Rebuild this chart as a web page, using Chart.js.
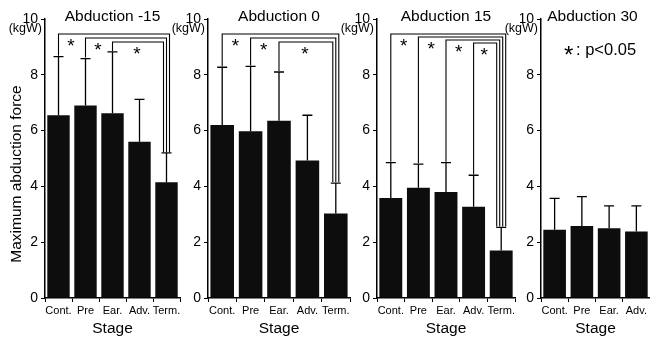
<!DOCTYPE html>
<html><head><meta charset="utf-8">
<script src="https://cdn.jsdelivr.net/npm/chart.js@4/dist/chart.umd.min.js"></script>
<style>
html,body{margin:0;padding:0;background:#fff;width:650px;height:340px;overflow:hidden}
canvas{position:absolute;top:0;left:0}
</style></head><body>
<canvas id="c0" width="650" height="340"></canvas>
<canvas id="c1" width="650" height="340"></canvas>
<canvas id="c2" width="650" height="340"></canvas>
<canvas id="c3" width="650" height="340"></canvas>
<script>
// ---- data ----
const stagesAll = ['Cont.', 'Pre', 'Ear.', 'Adv.', 'Term.'];
const stages30 = ['Cont.', 'Pre', 'Ear.', 'Adv.'];
const panelTitles = ['Abduction -15', 'Abduction 0', 'Abduction 15', 'Abduction 30'];
const yTickValues = [0, 2, 4, 6, 8, 10];

const meanM15 = [6.55, 6.9, 6.62, 5.6, 4.15];
const upperM15 = [8.65, 8.58, 8.82, 7.12, 5.2];
const meanA0 = [6.2, 5.98, 6.35, 4.93, 3.03];
const upperA0 = [8.27, 8.3, 8.1, 6.55, 4.12];
const meanA15 = [3.58, 3.95, 3.8, 3.27, 1.7];
const upperA15 = [4.85, 4.8, 4.85, 4.4, 2.53];
const meanA30 = [2.45, 2.58, 2.5, 2.38];
const upperA30 = [3.57, 3.63, 3.3, 3.3];

// significant pairs: [group, compared group]
const sigM15 = [[0, 4], [1, 4], [2, 4]];
const sigA0 = [[0, 4], [1, 4], [2, 4]];
const sigA15 = [[0, 4], [1, 4], [2, 4], [3, 4]];
const sigA30 = [];

const yUnit = '(kgW)';
const yTitle = 'Maximum abduction force';
const xTitle = 'Stage';
const legendStar = '*';
const legendText = ': p<0.05';

// ---- drawing ----
const FONT = "'Liberation Sans', Arial, Helvetica, sans-serif";
const panels = [
  {id: 'c0', labels: stagesAll, mean: meanM15, upper: upperM15, sig: sigM15, lp: 0,   yw: 45, rp: 470, step: 4},
  {id: 'c1', labels: stagesAll, mean: meanA0,  upper: upperA0,  sig: sigA0,  lp: 185, yw: 23, rp: 300, step: 4},
  {id: 'c2', labels: stagesAll, mean: meanA15, upper: upperA15, sig: sigA15, lp: 355, yw: 22, rp: 135, step: 3},
  {id: 'c3', labels: stages30,  mean: meanA30, upper: upperA30, sig: sigA30, lp: 520, yw: 21, rp: 0,   step: 3}
];

const decor = {
  id: 'decor',
  afterDatasetsDraw(chart, args, opts) {
    const p = opts.panel, idx = opts.index;
    const ctx = chart.ctx, xs = chart.scales.x, ys = chart.scales.y, ca = chart.chartArea;
    ctx.save();
    ctx.strokeStyle = '#000';
    ctx.fillStyle = '#000';
    ctx.lineWidth = 1.3;
    // error bars (upper only)
    p.mean.forEach((m, i) => {
      const x = xs.getPixelForValue(i);
      const yb = ys.getPixelForValue(m), yt = ys.getPixelForValue(p.upper[i]);
      ctx.beginPath();
      ctx.moveTo(x, yb); ctx.lineTo(x, yt);
      ctx.moveTo(x - 5, yt); ctx.lineTo(x + 5, yt);
      ctx.stroke();
    });
    // significance brackets
    const n = p.sig.length;
    ctx.lineWidth = 1.1;
    const lefts = [], rights = [], tops = [];
    p.sig.forEach((pair, k) => {
      const [a, b] = pair;
      const xl = xs.getPixelForValue(a);
      const yl = ys.getPixelForValue(p.upper[a]) - 1;
      const yh = ys.getPixelForValue(9.46) + k * p.step;
      const xr = xs.getPixelForValue(b) - (n - 1) * 1.5 + (n - 1 - k) * 3;
      const yr = ys.getPixelForValue(p.upper[b]) - 1;
      ctx.beginPath();
      ctx.moveTo(xl, yl); ctx.lineTo(xl, yh); ctx.lineTo(xr, yh); ctx.lineTo(xr, yr);
      ctx.stroke();
      lefts.push(xl); rights.push(xr); tops.push(yh);
    });
    ctx.font = '19px ' + FONT;
    ctx.textAlign = 'center';
    ctx.textBaseline = 'middle';
    p.sig.forEach((pair, k) => {
      const xEnd = k < n - 1 ? lefts[k + 1] : rights[k];
      const x = (lefts[k] + xEnd) / 2 - 1;
      ctx.fillText('*', x, tops[k] + 12.5);
    });
    // panel title
    ctx.font = '15.5px ' + FONT;
    ctx.textAlign = 'center';
    ctx.textBaseline = 'middle';
    ctx.fillText(panelTitles[idx], (ca.left + ca.right) / 2 - (idx === 3 ? 3 : 0), 17);
    // unit
    ctx.font = '12.5px ' + FONT;
    ctx.textAlign = 'right';
    ctx.fillText(yUnit, ca.left - 3, 29);
    // y title
    if (idx === 0) {
      ctx.save();
      ctx.translate(17, 174);
      ctx.rotate(-Math.PI / 2);
      ctx.font = '15.5px ' + FONT;
      ctx.textAlign = 'center';
      ctx.textBaseline = 'middle';
      ctx.fillText(yTitle, 0, 0);
      ctx.restore();
    }
    // legend
    if (idx === 3) {
      ctx.textAlign = 'left';
      ctx.font = '24px ' + FONT;
      ctx.fillText(legendStar, ca.left + 23, 56);
      ctx.font = '16.5px ' + FONT;
      ctx.fillText(legendText, ca.left + 35, 50);
    }
    ctx.restore();
  }
};

panels.forEach((p, idx) => {
  new Chart(document.getElementById(p.id), {
    type: 'bar',
    data: {
      labels: p.labels,
      datasets: [{data: p.mean, backgroundColor: '#0d0d0d', borderWidth: 0,
        barPercentage: 0.83, categoryPercentage: 1}]
    },
    options: {
      responsive: false,
      animation: false,
      devicePixelRatio: 1,
      layout: {padding: {top: 19, right: p.rp, left: p.lp, bottom: 0}},
      plugins: {legend: {display: false}, tooltip: {enabled: false}, title: {display: false},
        decor: {panel: p, index: idx}},
      scales: {
        x: {
          offset: true,
          grid: {offset: true, drawOnChartArea: false, drawTicks: true, tickLength: 4, color: '#000', lineWidth: 1},
          border: {display: true, color: '#000', width: 1.5},
          ticks: {color: '#000', font: {family: FONT, size: 11}, padding: 2, maxRotation: 0, autoSkip: false},
          title: {display: true, text: xTitle, color: '#000', font: {family: FONT, size: 15.5}, padding: {top: 0, bottom: 2}},
          afterFit(s) { s.height = 42; }
        },
        y: {
          min: 0, max: 10,
          afterBuildTicks(s) { s.ticks = yTickValues.map(v => ({value: v})); },
          grid: {drawOnChartArea: false, drawTicks: true, tickLength: 4, color: '#000', lineWidth: 1},
          border: {display: true, color: '#000', width: 1.5},
          ticks: {color: '#000', font: {family: FONT, size: 14}, padding: 3},
          afterFit(s) { s.width = p.yw; }
        }
      }
    },
    plugins: [decor]
  });
});
</script>
</body></html>
